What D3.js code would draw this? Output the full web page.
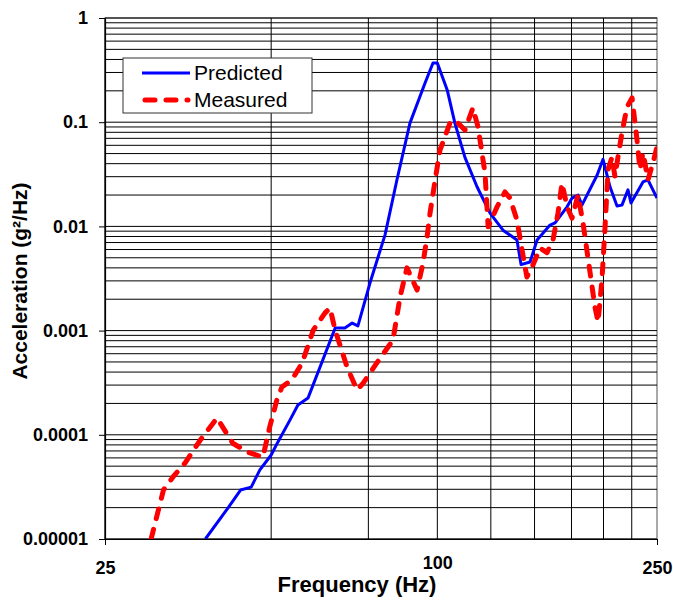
<!DOCTYPE html>
<html>
<head>
<meta charset="utf-8">
<script src="https://cdn.jsdelivr.net/npm/d3@7"></script>
<style>
  body { margin: 0; background: #fff; }
  text { font-family: "Liberation Sans", Arial, sans-serif; }
</style>
</head>
<body>
<script>
// Predicted response (Hz, g^2/Hz)
var predFreq = [38, 41.8, 44, 46, 47.7, 50, 51.4, 54.1, 55.9, 58.3, 65.3, 68, 70.1, 71.8, 75.5, 80.4, 84.5, 89.2, 95, 98.2, 100,
  104.2, 107.6, 112.2, 118, 124.6, 131.5, 139.4, 141.8, 147.2, 151.6, 160, 163.4, 171.8, 175.4, 179.8, 182.8, 194.7, 199.6,
  205.5, 211.6, 216, 221.5, 224.3, 235.8, 240.8, 250];
var predVal = [1.0e-5, 2.0e-5, 2.95e-5, 3.15e-5, 4.6e-5, 6.4e-5, 8.5e-5, 1.39e-4, 1.93e-4, 2.25e-4, 1.06e-3, 1.06e-3, 1.18e-3,
  1.11e-3, 2.86e-3, 8.3e-3, 2.8e-2, 9.8e-2, 0.238, 0.37, 0.37, 0.204, 9.8e-2, 4.6e-2, 2.4e-2, 1.34e-2, 9.2e-3, 7.4e-3, 4.3e-3,
  4.55e-3, 7.4e-3, 1.03e-2, 1.08e-2, 1.54e-2, 1.87e-2, 2.0e-2, 1.6e-2, 3.1e-2, 4.4e-2, 2.4e-2, 1.57e-2, 1.6e-2, 2.24e-2,
  1.68e-2, 2.67e-2, 2.79e-2, 1.87e-2];

// Measured response (Hz, g^2/Hz)
var measFreq = [30.3, 31.9, 33.2, 34.9, 37.2, 39.9, 42.6, 45.4, 48.3, 49.7, 51.2, 52.3, 54.5, 56.9, 59.6, 62.6, 63.9, 65.3,
  68.6, 71.5, 73.3, 77.7, 83.1, 85.6, 88.1, 91.9, 94.2, 95.8, 97, 99.1, 101.1, 105.4, 107.6, 112.2, 116, 118.5, 122, 123.6,
  128.3, 132.6, 135.4, 139.4, 142.4, 145.3, 149, 153.5, 158, 162, 165.4, 168.2, 171.8, 175.4, 179.8, 183.6, 189.1, 193, 195.5,
  198.7, 201.3, 203.8, 207.2, 209.8, 212.4, 216, 220.6, 225.3, 230, 232.9, 235.8, 240.8, 245.9, 250];
var measVal = [1.0e-5, 2.95e-5, 3.94e-5, 5.36e-5, 8.9e-5, 1.45e-4, 8.3e-5, 6.8e-5, 6.1e-5, 1.19e-4, 2.16e-4, 2.88e-4, 3.36e-4,
  4.9e-4, 1.01e-3, 1.48e-3, 1.65e-3, 1.01e-3, 4.5e-4, 2.7e-4, 3.1e-4, 4.9e-4, 8.1e-4, 2.1e-3, 4.0e-3, 2.45e-3, 4.45e-3, 7.9e-3,
  1.34e-2, 2.8e-2, 5.4e-2, 9.8e-2, 0.105, 8.4e-2, 0.137, 9.0e-2, 3.25e-2, 9.9e-3, 1.54e-2, 2.14e-2, 1.87e-2, 1.15e-2, 5.9e-3,
  3.27e-3, 4.26e-3, 6.2e-3, 5.6e-3, 7.4e-3, 1.34e-2, 2.6e-2, 1.54e-2, 1.2e-2, 2.0e-2, 1.08e-2, 3.6e-3, 1.68e-3, 1.21e-3,
  3.06e-3, 9.9e-3, 3.5e-2, 4.6e-2, 3.0e-2, 4.6e-2, 7.9e-2, 0.14, 0.171, 6.75e-2, 3.5e-2, 5.1e-2, 2.8e-2, 4.1e-2, 5.8e-2];

// Axis ticks and grid
var xGrid = [25, 50, 75, 100, 125, 150, 175, 200, 225, 250];
var xTicks = [25, 100, 250];
var yTicks = [1e-5, 1e-4, 1e-3, 1e-2, 1e-1, 1];
var yTickLabels = ["0.00001", "0.0001", "0.001", "0.01", "0.1", "1"];
var seriesNames = ["Predicted", "Measured"];

var width = 673, height = 600;
// plot area edges
var pLeft = 105, pRight = 657, pTop = 18, pBottom = 539;

var svg = d3.select("body").append("svg")
  .attr("width", width)
  .attr("height", height);

var x = d3.scaleLog().domain([25, 250]).range([pLeft, pRight]);
var y = d3.scaleLog().domain([1e-5, 1]).range([pBottom, pTop]);

// minor + major horizontal grid values
var yGrid = [];
for (var e = -5; e < 0; e++) {
  for (var k = 1; k < 10; k++) yGrid.push(k * Math.pow(10, e));
}
yGrid.push(1);

// plot frame (right edge shows gray)
svg.append("rect")
  .attr("x", pLeft).attr("y", pTop)
  .attr("width", pRight - pLeft).attr("height", pBottom - pTop)
  .attr("fill", "#fff")
  .attr("stroke", "#8c8c8c")
  .attr("stroke-width", 1.5);

svg.append("g").selectAll("line")
  .data(yGrid)
  .enter().append("line")
  .attr("x1", pLeft).attr("x2", pRight)
  .attr("y1", function(d){ return y(d); })
  .attr("y2", function(d){ return y(d); })
  .attr("stroke", "#000")
  .attr("stroke-width", 1);

svg.append("g").selectAll("line")
  .data(xGrid.slice(0, -1))
  .enter().append("line")
  .attr("x1", function(d){ return x(d); })
  .attr("x2", function(d){ return x(d); })
  .attr("y1", pTop).attr("y2", pBottom)
  .attr("stroke", "#000")
  .attr("stroke-width", 1);

// axes
var yAxis = svg.append("g")
  .attr("transform", "translate(" + pLeft + ",0)")
  .call(d3.axisLeft(y)
    .tickValues(yTicks)
    .tickFormat(function(d, i){ return yTickLabels[i]; })
    .tickSize(6).tickSizeOuter(0).tickPadding(11));

var xAxis = svg.append("g")
  .attr("transform", "translate(0," + pBottom + ")")
  .call(d3.axisBottom(x)
    .tickValues(xTicks)
    .tickFormat(d3.format("d"))
    .tickSize(6).tickSizeOuter(0).tickPadding(16));

svg.selectAll(".domain").attr("stroke", "#000").attr("stroke-width", 1.2);
svg.selectAll(".tick line").attr("stroke", "#000");
svg.selectAll(".tick text")
  .attr("fill", "#000")
  .attr("font-size", null)
  .style("font-size", "18px")
  .style("font-weight", "bold");
svg.selectAll(".tick").attr("font-size", null);
yAxis.attr("font-size", null).attr("font-family", null);
xAxis.attr("font-size", null).attr("font-family", null);

// the 100 label has no tick mark and sits a little higher
xAxis.selectAll(".tick").filter(function(d){ return d === 100; })
  .each(function(){
    d3.select(this).select("line").remove();
    d3.select(this).select("text").attr("y", 17);
  });

// series
svg.append("clipPath").attr("id", "plotClip")
  .append("rect")
  .attr("x", pLeft).attr("y", pTop)
  .attr("width", pRight - pLeft).attr("height", pBottom - pTop);

var line = d3.line()
  .x(function(d){ return x(d[0]); })
  .y(function(d){ return y(d[1]); });

var predData = d3.zip(predFreq, predVal);
var measData = d3.zip(measFreq, measVal);

var plot = svg.append("g").attr("clip-path", "url(#plotClip)");

plot.append("path")
  .datum(predData)
  .attr("d", line)
  .attr("fill", "none")
  .attr("stroke", "#0000ff")
  .attr("stroke-width", 3)
  .attr("stroke-linejoin", "round");

plot.append("path")
  .datum(measData)
  .attr("d", line)
  .attr("fill", "none")
  .attr("stroke", "#ff0000")
  .attr("stroke-width", 5)
  .attr("stroke-dasharray", "10,11")
  .attr("stroke-linecap", "round")
  .attr("stroke-linejoin", "round");

// legend
var legend = svg.append("g");
legend.append("rect")
  .attr("x", 123).attr("y", 58)
  .attr("width", 189).attr("height", 55)
  .attr("fill", "#fff")
  .attr("stroke", "#333")
  .attr("stroke-width", 1);

var legendItems = legend.selectAll(".item")
  .data(seriesNames)
  .enter().append("g")
  .attr("class", "item")
  .attr("transform", function(d, i){ return "translate(0," + (73 + i * 27) + ")"; });

legendItems.append("line")
  .attr("x1", function(d, i){ return i ? 145 : 142; })
  .attr("x2", function(d, i){ return i ? 188 : 190; })
  .attr("y1", 0).attr("y2", 0)
  .attr("stroke", function(d, i){ return i ? "#ff0000" : "#0000ff"; })
  .attr("stroke-width", function(d, i){ return i ? 5 : 3; })
  .attr("stroke-dasharray", function(d, i){ return i ? "10,11" : null; })
  .attr("stroke-linecap", function(d, i){ return i ? "round" : "butt"; });

legendItems.append("text")
  .attr("x", 194)
  .attr("y", 7)
  .style("font-size", "21px")
  .attr("fill", "#000")
  .text(function(d){ return d; });

// axis titles
svg.append("text")
  .attr("x", 357)
  .attr("y", 592)
  .attr("text-anchor", "middle")
  .style("font-size", "22px")
  .style("font-weight", "bold")
  .text("Frequency (Hz)");

svg.append("text")
  .attr("transform", "translate(27,281) rotate(-90)")
  .attr("text-anchor", "middle")
  .style("font-size", "21px")
  .style("font-weight", "bold")
  .text("Acceleration (g²/Hz)");
</script>
</body>
</html>
